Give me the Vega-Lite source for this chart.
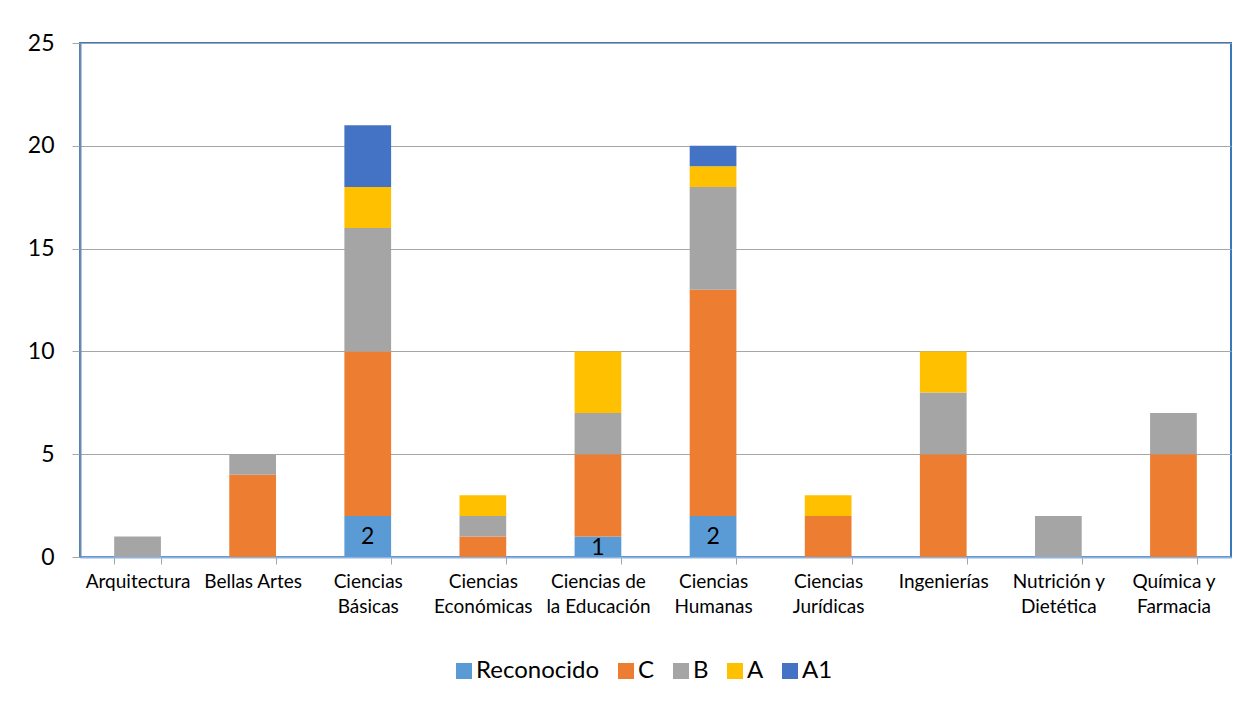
{
  "$schema": "https://vega.github.io/schema/vega-lite/v6.json",
  "autosize": {"type": "none"},
  "width": 1151,
  "height": 514,
  "padding": {"left": 80, "top": 43, "right": 27, "bottom": 151},
  "background": "white",
  "config": {
    "font": "Lato",
    "view": {"stroke": "#3A78BE", "strokeWidth": 2},
    "axis": {"labelFont": "Lato", "labelColor": "#000000", "titleColor": "#000000"},
    "legend": {"labelFont": "Lato"}
  },
  "data": {
    "values": [
      {"facultad": "Arquitectura", "categoria": "B", "n": 1},
      {"facultad": "Bellas Artes", "categoria": "C", "n": 4},
      {"facultad": "Bellas Artes", "categoria": "B", "n": 1},
      {"facultad": "Ciencias Básicas", "categoria": "Reconocido", "n": 2},
      {"facultad": "Ciencias Básicas", "categoria": "C", "n": 8},
      {"facultad": "Ciencias Básicas", "categoria": "B", "n": 6},
      {"facultad": "Ciencias Básicas", "categoria": "A", "n": 2},
      {"facultad": "Ciencias Básicas", "categoria": "A1", "n": 3},
      {"facultad": "Ciencias Económicas", "categoria": "C", "n": 1},
      {"facultad": "Ciencias Económicas", "categoria": "B", "n": 1},
      {"facultad": "Ciencias Económicas", "categoria": "A", "n": 1},
      {"facultad": "Ciencias de la Educación", "categoria": "Reconocido", "n": 1},
      {"facultad": "Ciencias de la Educación", "categoria": "C", "n": 4},
      {"facultad": "Ciencias de la Educación", "categoria": "B", "n": 2},
      {"facultad": "Ciencias de la Educación", "categoria": "A", "n": 3},
      {"facultad": "Ciencias Humanas", "categoria": "Reconocido", "n": 2},
      {"facultad": "Ciencias Humanas", "categoria": "C", "n": 11},
      {"facultad": "Ciencias Humanas", "categoria": "B", "n": 5},
      {"facultad": "Ciencias Humanas", "categoria": "A", "n": 1},
      {"facultad": "Ciencias Humanas", "categoria": "A1", "n": 1},
      {"facultad": "Ciencias Jurídicas", "categoria": "C", "n": 2},
      {"facultad": "Ciencias Jurídicas", "categoria": "A", "n": 1},
      {"facultad": "Ingenierías", "categoria": "C", "n": 5},
      {"facultad": "Ingenierías", "categoria": "B", "n": 3},
      {"facultad": "Ingenierías", "categoria": "A", "n": 2},
      {"facultad": "Nutrición y Dietética", "categoria": "B", "n": 2},
      {"facultad": "Química y Farmacia", "categoria": "C", "n": 5},
      {"facultad": "Química y Farmacia", "categoria": "B", "n": 2}
    ]
  },
  "encoding": {
    "x": {
      "field": "facultad",
      "type": "nominal",
      "sort": null,
      "scale": {"paddingInner": 0.594, "paddingOuter": 0.297},
      "axis": {
        "title": null,
        "labelAngle": 0,
        "labelFontSize": 19,
        "labelLineHeight": 25,
        "labelPadding": 8,
        "labelBaseline": "top",
        "tickBand": "extent",
        "tickColor": "#A6A6A6",
        "tickSize": 7,
        "domainColor": "#8DB3E2",
        "domainWidth": 2,
        "labelExpr": "datum.label == 'Ciencias Básicas' ? ['Ciencias', 'Básicas'] : datum.label == 'Ciencias Económicas' ? ['Ciencias', 'Económicas'] : datum.label == 'Ciencias de la Educación' ? ['Ciencias de', 'la Educación'] : datum.label == 'Ciencias Humanas' ? ['Ciencias', 'Humanas'] : datum.label == 'Ciencias Jurídicas' ? ['Ciencias', 'Jurídicas'] : datum.label == 'Nutrición y Dietética' ? ['Nutrición y', 'Dietética'] : datum.label == 'Química y Farmacia' ? ['Química y', 'Farmacia'] : datum.label"
      }
    },
    "y": {
      "field": "n",
      "type": "quantitative",
      "stack": "zero",
      "scale": {"domain": [0, 25], "nice": false},
      "axis": {
        "title": null,
        "values": [0, 5, 10, 15, 20, 25],
        "labelFontSize": 23,
        "labelPadding": 18,
        "tickSize": 8,
        "tickColor": "#A6A6A6",
        "domainColor": "#6B8BB0",
        "domainWidth": 2,
        "gridColor": "#A6A6A6",
        "gridWidth": 1
      }
    }
  },
  "layer": [
    {
      "transform": [
        {"calculate": "indexof(['Reconocido', 'C', 'B', 'A', 'A1'], datum.categoria)", "as": "orden"}
      ],
      "mark": {"type": "bar"},
      "encoding": {
        "order": {"field": "orden", "type": "quantitative", "sort": "ascending"},
        "color": {
          "field": "categoria",
          "type": "nominal",
          "sort": ["Reconocido", "C", "B", "A", "A1"],
          "scale": {
            "domain": ["Reconocido", "C", "B", "A", "A1"],
            "range": ["#5B9BD5", "#ED7D31", "#A5A5A5", "#FFC000", "#4472C4"]
          },
          "legend": {
            "title": null,
            "orient": "none",
            "legendX": 372,
            "legendY": 616,
            "direction": "horizontal",
            "symbolType": "square",
            "symbolSize": 256,
            "symbolStrokeWidth": 0,
            "labelFontSize": 24,
            "labelOffset": 0,
            "columnPadding": 14
          }
        }
      }
    },
    {
      "transform": [
        {"filter": "datum.categoria == 'Reconocido'"},
        {"calculate": "datum.n / 2", "as": "medio"}
      ],
      "mark": {"type": "text", "fontSize": 23, "color": "#000000", "baseline": "middle", "dy": 1},
      "encoding": {
        "y": {"field": "medio", "type": "quantitative"},
        "text": {"field": "n", "type": "quantitative"}
      }
    }
  ]
}
